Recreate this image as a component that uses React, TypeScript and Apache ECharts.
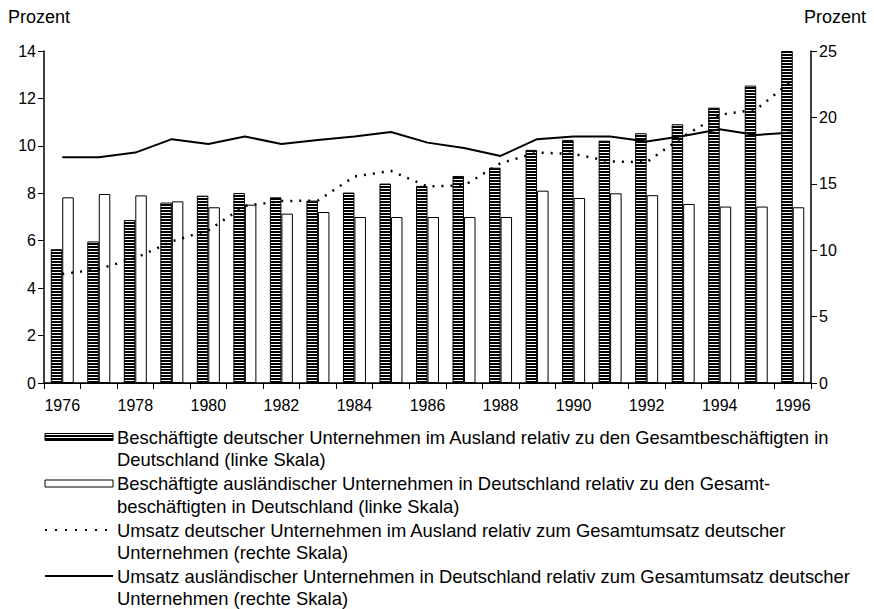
import React, { useEffect, useRef } from 'react';
import * as echarts from 'echarts';

const years = [
  '1976', '1977', '1978', '1979', '1980', '1981', '1982', '1983', '1984', '1985', '1986',
  '1987', '1988', '1989', '1990', '1991', '1992', '1993', '1994', '1995', '1996',
];

// Beschäftigte deutscher Unternehmen im Ausland (linke Skala)
const beschDeutschImAusland = [
  5.64, 5.97, 6.87, 7.61, 7.9, 8.01, 7.83, 7.69, 8.03, 8.41, 8.31,
  8.73, 9.08, 9.83, 10.25, 10.22, 10.53, 10.91, 11.61, 12.54, 14.0,
];

// Beschäftigte ausländischer Unternehmen in Deutschland (linke Skala)
const beschAuslInDeutschland = [
  7.83, 7.97, 7.91, 7.66, 7.41, 7.52, 7.14, 7.21, 7.0, 7.0, 7.0,
  7.0, 7.0, 8.11, 7.8, 8.0, 7.92, 7.55, 7.44, 7.44, 7.41,
];

// Umsatz deutscher Unternehmen im Ausland (rechte Skala)
const umsatzDeutschImAusland = [
  8.2, 8.58, 9.4, 10.66, 11.5, 13.34, 13.7, 13.74, 15.55, 15.97, 14.8,
  14.87, 16.55, 17.35, 17.25, 16.68, 16.63, 18.56, 20.19, 20.6, 22.8,
];

// Umsatz ausländischer Unternehmen in Deutschland (rechte Skala)
const umsatzAuslInDeutschland = [
  17.0, 17.0, 17.35, 18.36, 18.0, 18.56, 18.0, 18.3, 18.56, 18.9, 18.1,
  17.7, 17.1, 18.36, 18.56, 18.56, 18.18, 18.6, 19.1, 18.68, 18.86,
];

const axisTitle = 'Prozent';

const legendTexts = [
  ['Beschäftigte deutscher Unternehmen im Ausland relativ zu den Gesamtbeschäftigten in', 'Deutschland (linke Skala)'],
  ['Beschäftigte ausländischer Unternehmen in Deutschland relativ zu den Gesamt-', 'beschäftigten in Deutschland (linke Skala)'],
  ['Umsatz deutscher Unternehmen im Ausland relativ zum Gesamtumsatz deutscher', 'Unternehmen (rechte Skala)'],
  ['Umsatz ausländischer Unternehmen in Deutschland relativ zum Gesamtumsatz deutscher', 'Unternehmen (rechte Skala)'],
];

const FONT = '"Liberation Sans", Arial, Helvetica, sans-serif';

function makeStripePattern(): any {
  const c = document.createElement('canvas');
  c.width = 6;
  c.height = 3;
  const ctx = c.getContext('2d')!;
  ctx.fillStyle = '#ffffff';
  ctx.fillRect(0, 0, 6, 3);
  ctx.fillStyle = '#000000';
  ctx.fillRect(0, 0, 6, 2);
  return { image: c, repeat: 'repeat', imageWidth: 6, imageHeight: 3 };
}

export default function App() {
  const ref = useRef<HTMLDivElement>(null);

  useEffect(() => {
    if (!ref.current) return;
    const chart = echarts.init(ref.current, undefined, { renderer: 'svg' });
    const stripes = makeStripePattern();

    const legendEntryY = [437, 483.5, 530, 576];
    const lineStep = 22.7;
    const legendFont = `18.4px ${FONT}`;

    const graphic: any[] = [
      {
        type: 'text', x: 8, y: 17,
        style: { text: axisTitle, font: `18px ${FONT}`, fill: '#000', verticalAlign: 'middle', align: 'left' },
      },
      {
        type: 'text', x: 866, y: 17,
        style: { text: axisTitle, font: `18px ${FONT}`, fill: '#000', verticalAlign: 'middle', align: 'right' },
      },
      {
        type: 'rect', shape: { x: 45, y: legendEntryY[0] - 3.5, width: 68, height: 7 },
        style: { fill: stripes, stroke: '#000', lineWidth: 1 },
      },
      {
        type: 'rect', shape: { x: 45, y: legendEntryY[1] - 3.5, width: 68, height: 7 },
        style: { fill: '#fff', stroke: '#000', lineWidth: 1 },
      },
      {
        type: 'line', shape: { x1: 45, y1: legendEntryY[2], x2: 113, y2: legendEntryY[2] },
        style: { stroke: '#000', lineWidth: 2, lineDash: [2, 8] },
      },
      {
        type: 'line', shape: { x1: 45, y1: legendEntryY[3], x2: 113, y2: legendEntryY[3] },
        style: { stroke: '#000', lineWidth: 2 },
      },
    ];
    legendTexts.forEach((lines, i) => {
      lines.forEach((t, j) => {
        graphic.push({
          type: 'text', x: 117, y: legendEntryY[i] + j * lineStep,
          style: { text: t, font: legendFont, fill: '#000', verticalAlign: 'middle', align: 'left' },
        });
      });
    });

    const axisLineStyle = { color: '#000', width: 1.5 };
    const labelStyle = { color: '#000', fontSize: 16, fontFamily: FONT };

    chart.setOption({
      animation: false,
      backgroundColor: '#fff',
      grid: { left: 44, right: 63, top: 51, bottom: 226, containLabel: false, outerBoundsMode: 'none' },
      xAxis: [
        {
          type: 'category',
          data: years,
          boundaryGap: true,
          position: 'bottom',
          axisLine: { show: true, lineStyle: axisLineStyle },
          axisTick: { show: true, interval: 0, length: 6, lineStyle: { color: '#000', width: 1 } },
          axisLabel: { ...labelStyle, interval: 1, margin: 14 },
          splitLine: { show: false },
        },
        {
          type: 'category',
          data: years,
          position: 'top',
          axisLine: { show: true, lineStyle: { color: '#000', width: 1.2 } },
          axisTick: { show: false },
          axisLabel: { show: false },
          splitLine: { show: false },
        },
      ],
      yAxis: [
        {
          type: 'value', min: 0, max: 14, interval: 2, position: 'left',
          axisLine: { show: true, lineStyle: axisLineStyle },
          axisTick: { show: true, length: 6, lineStyle: { color: '#000', width: 1 } },
          axisLabel: { ...labelStyle, margin: 8 },
          splitLine: { show: false },
        },
        {
          type: 'value', min: 0, max: 25, interval: 5, position: 'right',
          axisLine: { show: true, lineStyle: axisLineStyle },
          axisTick: { show: true, length: 6, lineStyle: { color: '#000', width: 1 } },
          axisLabel: { ...labelStyle, margin: 8 },
          splitLine: { show: false },
        },
      ],
      series: [
        {
          name: legendTexts[0][0],
          type: 'bar',
          data: beschDeutschImAusland,
          barWidth: 11.5,
          barGap: '0%',
          itemStyle: { color: stripes, borderColor: '#000', borderWidth: 1 },
        },
        {
          name: legendTexts[1][0],
          type: 'bar',
          data: beschAuslInDeutschland,
          barWidth: 11.5,
          barGap: '0%',
          itemStyle: { color: '#fff', borderColor: '#000', borderWidth: 1 },
        },
        {
          name: legendTexts[2][0],
          type: 'line',
          yAxisIndex: 1,
          data: umsatzDeutschImAusland,
          symbol: 'none',
          z: 5,
          lineStyle: { color: '#000', width: 2.5, type: [2, 7] },
        },
        {
          name: legendTexts[3][0],
          type: 'line',
          yAxisIndex: 1,
          data: umsatzAuslInDeutschland,
          symbol: 'none',
          z: 5,
          lineStyle: { color: '#000', width: 2 },
        },
      ],
      graphic,
    } as any);

    return () => chart.dispose();
  }, []);

  return (
    <div
      ref={ref}
      style={{ position: 'fixed', left: 0, top: 0, width: 874, height: 609, background: '#fff' }}
    />
  );
}
